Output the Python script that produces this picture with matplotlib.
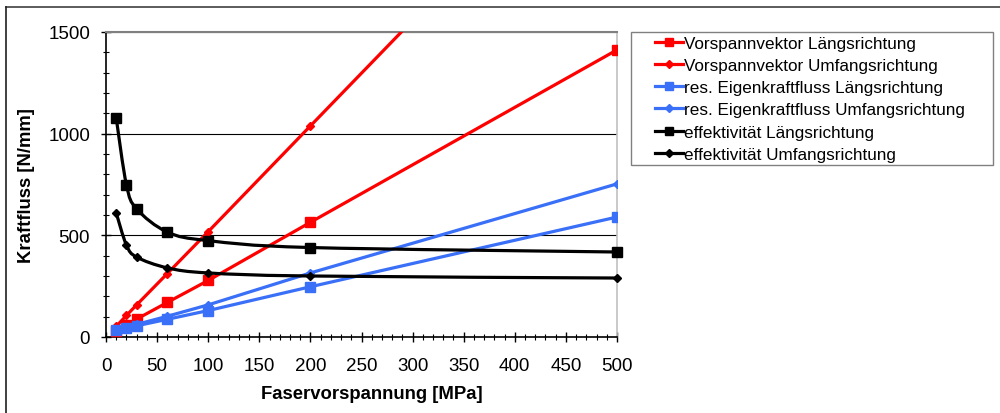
import matplotlib.pyplot as plt
import numpy as np
from matplotlib.lines import Line2D
from matplotlib.patches import PathPatch, Rectangle
from matplotlib.path import Path
from matplotlib.ticker import MultipleLocator

plt.rcParams["font.family"] = ["Liberation Sans", "DejaVu Sans"]

x_mpa = [10, 20, 30, 60, 100, 200, 500]

vorspann_laengs = [28, 57, 88, 170, 278, 564, 1412]
vorspann_umfang = [52, 106, 158, 312, 518, 1038, 2595]
eigen_laengs = [32, 45, 55, 87, 130, 247, 590]
eigen_umfang = [36, 50, 62, 102, 158, 315, 753]
eff_laengs = [1077, 748, 630, 516, 474, 440, 418]
eff_umfang = [610, 452, 393, 340, 315, 300, 290]

labels = [
    "Vorspannvektor Längsrichtung",
    "Vorspannvektor Umfangsrichtung",
    "res. Eigenkraftfluss Längsrichtung",
    "res. Eigenkraftfluss Umfangsrichtung",
    "effektivität Längsrichtung",
    "effektivität Umfangsrichtung",
]

RED = "#ff0000"
BLUE = "#3a6ff7"
BLACK = "#000000"


def smooth_path(xs, ys):
    # Catmull-Rom style bezier, similar to Excel's smoothed lines
    pts = np.column_stack([xs, ys]).astype(float)
    n = len(pts)
    verts = [pts[0]]
    codes = [Path.MOVETO]
    for i in range(n - 1):
        p0 = pts[i - 1] if i > 0 else pts[i]
        p1 = pts[i]
        p2 = pts[i + 1]
        p3 = pts[i + 2] if i + 2 < n else pts[i + 1]
        c1 = p1 + (p2 - p0) / 6.0
        c2 = p2 - (p3 - p1) / 6.0
        verts += [c1, c2, p2]
        codes += [Path.CURVE4] * 3
    return Path(verts, codes)


fig = plt.figure(figsize=(10, 4.14), dpi=100)
ax = fig.add_axes([0.106, 0.1836, 0.511, 0.7367])

series = [
    (vorspann_laengs, RED, "s", 6.5, False),
    (vorspann_umfang, RED, "D", 4.5, False),
    (eigen_laengs, BLUE, "s", 6.5, False),
    (eigen_umfang, BLUE, "D", 4.5, False),
    (eff_laengs, BLACK, "s", 6.5, True),
    (eff_umfang, BLACK, "D", 4.5, True),
]

handles = []
for (vals, color, marker, ms, smooth), label in zip(series, labels):
    if smooth:
        patch = PathPatch(smooth_path(x_mpa, vals), facecolor="none",
                          edgecolor=color, linewidth=2.3, zorder=3)
        ax.add_patch(patch)
        ax.plot(x_mpa, vals, linestyle="none", marker=marker, markersize=ms,
                color=color, zorder=4, clip_on=False)
    else:
        ax.plot(x_mpa, vals, color=color, linewidth=2.3, marker=marker,
                markersize=ms, zorder=3, clip_on=True)
    handles.append(Line2D([], [], color=color, linewidth=2.3, marker=marker,
                          markersize=ms * 0.85))

ax.set_xlim(0, 500)
ax.set_ylim(0, 1500)
ax.xaxis.set_major_locator(MultipleLocator(50))
ax.xaxis.set_minor_locator(MultipleLocator(10))
ax.yaxis.set_major_locator(MultipleLocator(500))
ax.yaxis.set_minor_locator(MultipleLocator(100))
ax.tick_params(axis="both", which="major", direction="inout", length=7,
               width=1, labelsize=13.5)
ax.tick_params(axis="x", which="major", pad=11)
ax.tick_params(axis="y", which="major", pad=8)
ax.tick_params(axis="both", which="minor", direction="inout", length=4,
               width=0.8)
ax.yaxis.grid(True, which="major", color="#000000", linewidth=0.8)
ax.set_axisbelow(True)

ax.spines["left"].set_color("black")
ax.spines["bottom"].set_color("black")
ax.spines["left"].set_linewidth(1.2)
ax.spines["bottom"].set_linewidth(1.2)
ax.spines["top"].set_color("#808080")
ax.spines["top"].set_linewidth(1.5)
ax.spines["right"].set_color("#c0c0c0")
ax.spines["right"].set_linewidth(1.2)

ax.set_xlabel("Faservorspannung [MPa]", fontsize=13.3, fontweight="bold")
ax.xaxis.set_label_coords(0.52, -0.157)
ax.xaxis.label.set_va("top")
ax.set_ylabel("Kraftfluss [N/mm]", fontsize=13.3, fontweight="bold")
ax.yaxis.set_label_coords(-0.139, 0.5)

leg = fig.legend(handles, labels, loc="upper left",
                 bbox_to_anchor=(0.655, 0.911), fontsize=12.3,
                 frameon=False, handlelength=1.65,
                 handletextpad=0.05, labelspacing=0.42, borderpad=0,
                 borderaxespad=0)

# legend box
fig.add_artist(Rectangle((0.631, 0.599), 0.362, 0.321, facecolor="none",
                         edgecolor="#808080", linewidth=1.0,
                         transform=fig.transFigure))

# outer chart frame (top and left edges visible)
fig.add_artist(Line2D([0.006, 1.0], [0.981, 0.981], color="#404040",
                      linewidth=1.2, transform=fig.transFigure))
fig.add_artist(Line2D([0.006, 0.006], [0.0, 0.981], color="#202020",
                      linewidth=1.2, transform=fig.transFigure))

fig.savefig("out.png", dpi=100)
